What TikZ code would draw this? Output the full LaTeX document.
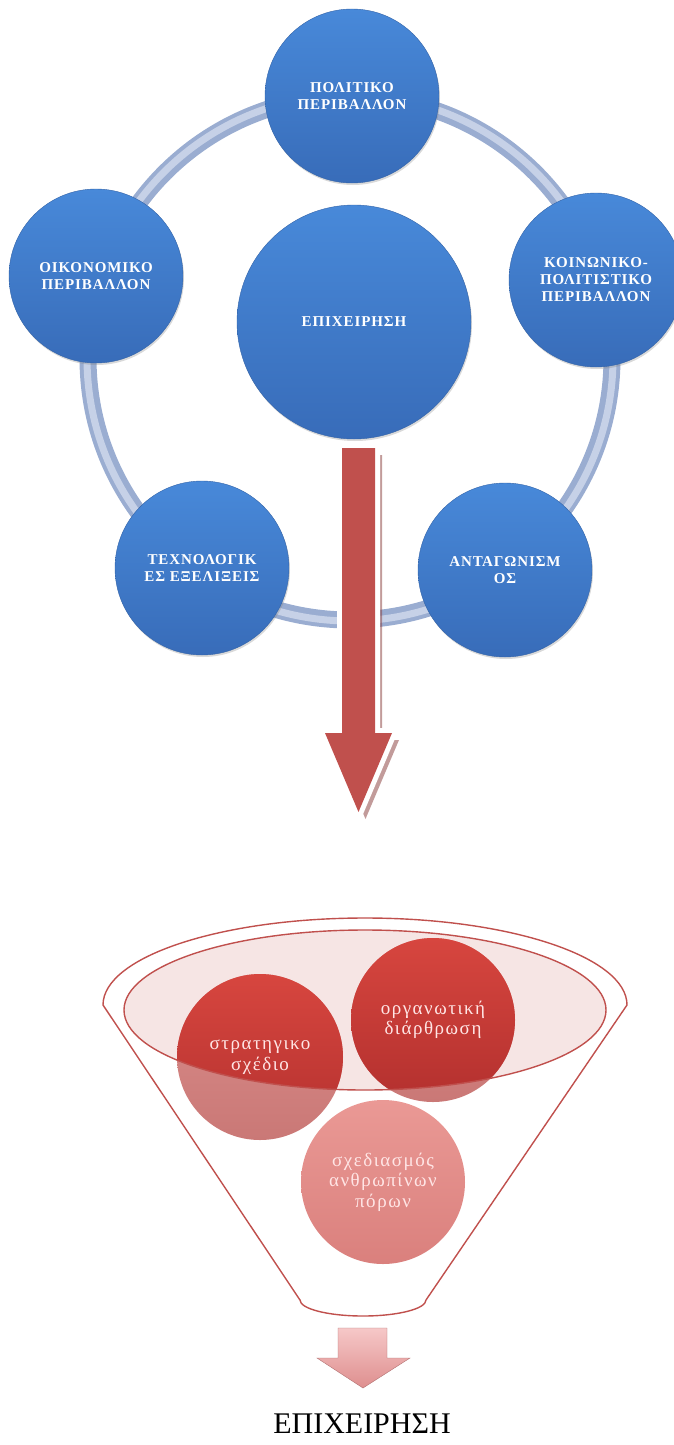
\documentclass[tikz,border=0pt]{standalone}
\usepackage{fontspec}
\setmainfont{Liberation Serif}
\newfontfamily\ballfont[LetterSpace=6]{Liberation Serif}
\newfontfamily\funnelfont[LetterSpace=8]{Liberation Serif}
\usetikzlibrary{shadows}

\definecolor{balltop}{HTML}{4889D9}
\definecolor{ballbot}{HTML}{386CB9}
\definecolor{ballrim}{HTML}{3464A8}
\definecolor{ringblue}{HTML}{9AADD1}
\definecolor{ringlight}{HTML}{C6D1E7}
\definecolor{offred}{HTML}{C0504D}
\definecolor{darktop}{HTML}{D7463F}
\definecolor{darkbot}{HTML}{B3302E}
\definecolor{paletop}{HTML}{DA8E8C}
\definecolor{palebot}{HTML}{CA7876}
\definecolor{hrtop}{HTML}{EA9995}
\definecolor{hrbot}{HTML}{DA807D}
\definecolor{pinktop}{HTML}{F6C8C8}
\definecolor{pinkbot}{HTML}{DE8E8E}

\begin{document}
\begin{tikzpicture}
  [x=1pt, y=-1pt,
  ring/.style={draw=ringblue, line width=17pt},
  ringshine/.style={draw=ringlight, line width=7pt},
  envball/.style={circle, minimum size=174pt, inner sep=0pt, draw=ballrim,
    top color=balltop, bottom color=ballbot, text=white, align=center,
    font=\ballfont\bfseries\fontsize{15}{17}\selectfont,
    drop shadow={opacity=0.3, shadow xshift=1pt, shadow yshift=-2pt}},
  coreball/.style={envball, minimum size=234pt},
  funtext/.style={circle, minimum size=164pt, inner sep=0pt,
    text=white!90!red, align=center, font=\funnelfont\fontsize{19}{20.5}\selectfont},
  funline/.style={draw=offred, line width=1.4pt},
  bigarrow/.style={fill=offred, draw=white, line width=10pt, line join=miter},
  smallarrow/.style={top color=pinktop, bottom color=pinkbot, draw=pinkbot!80!black, thin}]
  \useasboundingbox (0,0) rectangle (674,1445);

  % environment around the firm
  \draw[ring] (350,358) circle[radius=262];
  \draw[ringshine] (350,358) circle[radius=263];
  \node[envball] (politiko) at (352,96) {ΠΟΛΙΤΙΚΟ\\ΠΕΡΙΒΑΛΛΟΝ};
  \node[envball] (oikonomiko) at (96,276) {ΟΙΚΟΝΟΜΙΚΟ\\ΠΕΡΙΒΑΛΛΟΝ};
  \node[envball] (koinoniko) at (596,280) {ΚΟΙΝΩΝΙΚΟ-\\ΠΟΛΙΤΙΣΤΙΚΟ\\ΠΕΡΙΒΑΛΛΟΝ};
  \node[envball] (texnologikes) at (202,568) {ΤΕΧΝΟΛΟΓΙΚ\\ΕΣ ΕΞΕΛΙΞΕΙΣ};
  \node[envball] (antagonismos) at (505,570) {ΑΝΤΑΓΩΝΙΣΜ\\ΟΣ};
  \node[coreball] (epixeirisi) at (354,322) {ΕΠΙΧΕΙΡΗΣΗ};

  % big arrow down to the funnel
  \fill[offred!70!black, opacity=0.5] (349,455) -- (382,455) -- (382,740) -- (399,740)
    -- (365.5,819) -- (332,740) -- (349,740) -- cycle;
  \path[bigarrow] (342,448) -- (375,448) -- (375,733) -- (392,733)
    -- (358.5,812) -- (325,733) -- (342,733) -- cycle;
  \fill[offred] (342,448) -- (375,448) -- (375,733) -- (392,733)
    -- (358.5,812) -- (325,733) -- (342,733) -- cycle;

  % funnel
  \coordinate (stratc) at (260,1057);
  \coordinate (organc) at (433,1020);
  \coordinate (hrc) at (383,1182);
  \fill[offred, opacity=0.15] (365,1010) ellipse[x radius=241, y radius=80];
  \shade[top color=paletop, bottom color=palebot] (stratc) circle[radius=83];
  \shade[top color=paletop, bottom color=palebot] (organc) circle[radius=82];
  \shade[top color=hrtop, bottom color=hrbot] (hrc) circle[radius=82];
  \begin{scope}
    \clip (365,1010) ellipse[x radius=241, y radius=80];
    \shade[top color=darktop, bottom color=darkbot] (stratc) circle[radius=83];
    \shade[top color=darktop, bottom color=darkbot] (organc) circle[radius=82];
  \end{scope}
  \draw[funline] (365,1010) ellipse[x radius=241, y radius=80];
  \draw[funline] (103,1005) arc[start angle=180, end angle=360, x radius=262, y radius=87]
    -- (426,1300) arc[start angle=0, end angle=180, x radius=63, y radius=16] -- cycle;
  \node[funtext] (strat) at (stratc) {στρατηγικο\\σχέδιο};
  \node[funtext] (organ) at (organc) {οργανωτική\\διάρθρωση};
  \node[funtext] (hr) at (hrc) {σχεδιασμός\\ανθρωπίνων\\πόρων};

  % result
  \path[smallarrow] (338,1328) -- (387,1328) -- (387,1358) -- (410,1358)
    -- (363,1388) -- (317,1358) -- (338,1358) -- cycle;
  \node[font=\fontsize{30}{32}\selectfont] (result) at (362,1424) {ΕΠΙΧΕΙΡΗΣΗ};
\end{tikzpicture}
\end{document}
